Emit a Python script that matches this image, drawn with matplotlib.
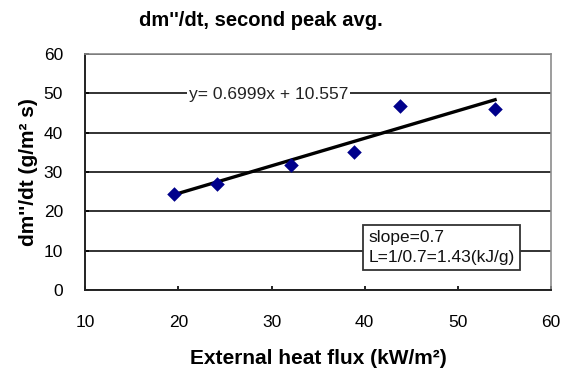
import matplotlib
matplotlib.use("Agg")
import matplotlib.pyplot as plt
import numpy as np

plt.rcParams['font.family'] = ['Liberation Sans', 'DejaVu Sans']

# Measured second-peak average mass loss rate vs external heat flux
heat_flux = [19.5, 24.1, 32.1, 38.9, 43.8, 54.0]
mass_rate = [24.4, 26.9, 31.8, 35.1, 46.8, 46.0]

# Linear fit reported on the chart
fit_slope = 0.6999
fit_intercept = 10.557

x_ticks = [10, 20, 30, 40, 50, 60]
y_ticks = [0, 10, 20, 30, 40, 50, 60]

fig = plt.figure(figsize=(5.68, 3.73), dpi=100)
ax = fig.add_axes([0.150, 0.2225, 0.820, 0.633])

ax.set_xlim(10, 60)
ax.set_ylim(0, 60)
ax.set_xticks(x_ticks)
ax.set_yticks(y_ticks)
ax.set_xticklabels([str(v) for v in x_ticks], fontsize=12.5)
ax.set_yticklabels([str(v) for v in y_ticks], fontsize=12.5)
ax.tick_params(axis='x', direction='in', length=3, width=1.2, color='black', pad=18)
ax.tick_params(axis='y', direction='in', length=3, width=1.2, color='black', pad=16)

ax.yaxis.grid(True, color='#222222', linewidth=1.3)
ax.set_axisbelow(True)

for side in ('left', 'bottom'):
    ax.spines[side].set_color('#222222')
    ax.spines[side].set_linewidth(1.4)
for side in ('top', 'right'):
    ax.spines[side].set_color('#8c8c8c')
    ax.spines[side].set_linewidth(1.2)

# Trendline from the reported fit
xs = np.array([min(heat_flux), max(heat_flux)])
ax.plot(xs, fit_slope * xs + fit_intercept, color='black', linewidth=2.4, zorder=3)

ax.scatter(heat_flux, mass_rate, marker='D', s=55, color='#00008b', zorder=4, linewidths=0)

ax.text(29.7, 49.7, f"y= {fit_slope}x + {fit_intercept}", fontsize=12.5, ha='center', va='center',
        color='#222222', bbox=dict(boxstyle='square,pad=0.12', facecolor='white', edgecolor='none'),
        zorder=5)

ax.text(40.4, 10.8, "slope=0.7\nL=1/0.7=1.43(kJ/g)", fontsize=12.5, ha='left', va='center',
        linespacing=1.45, color='#111111',
        bbox=dict(boxstyle='square,pad=0.3', facecolor='white', edgecolor='#333333', linewidth=1.3),
        zorder=5)

ax.set_xlabel("External heat flux (kW/m\u00b2)", fontsize=15, fontweight='bold', labelpad=14)
ax.set_ylabel("dm''/dt (g/m\u00b2 s)", fontsize=15, fontweight='bold', labelpad=4)
fig.text(0.46, 0.945, "dm''/dt, second peak avg.", fontsize=14.5, fontweight='bold',
         ha='center', va='center')

fig.savefig("out.png", dpi=100, facecolor='white')
